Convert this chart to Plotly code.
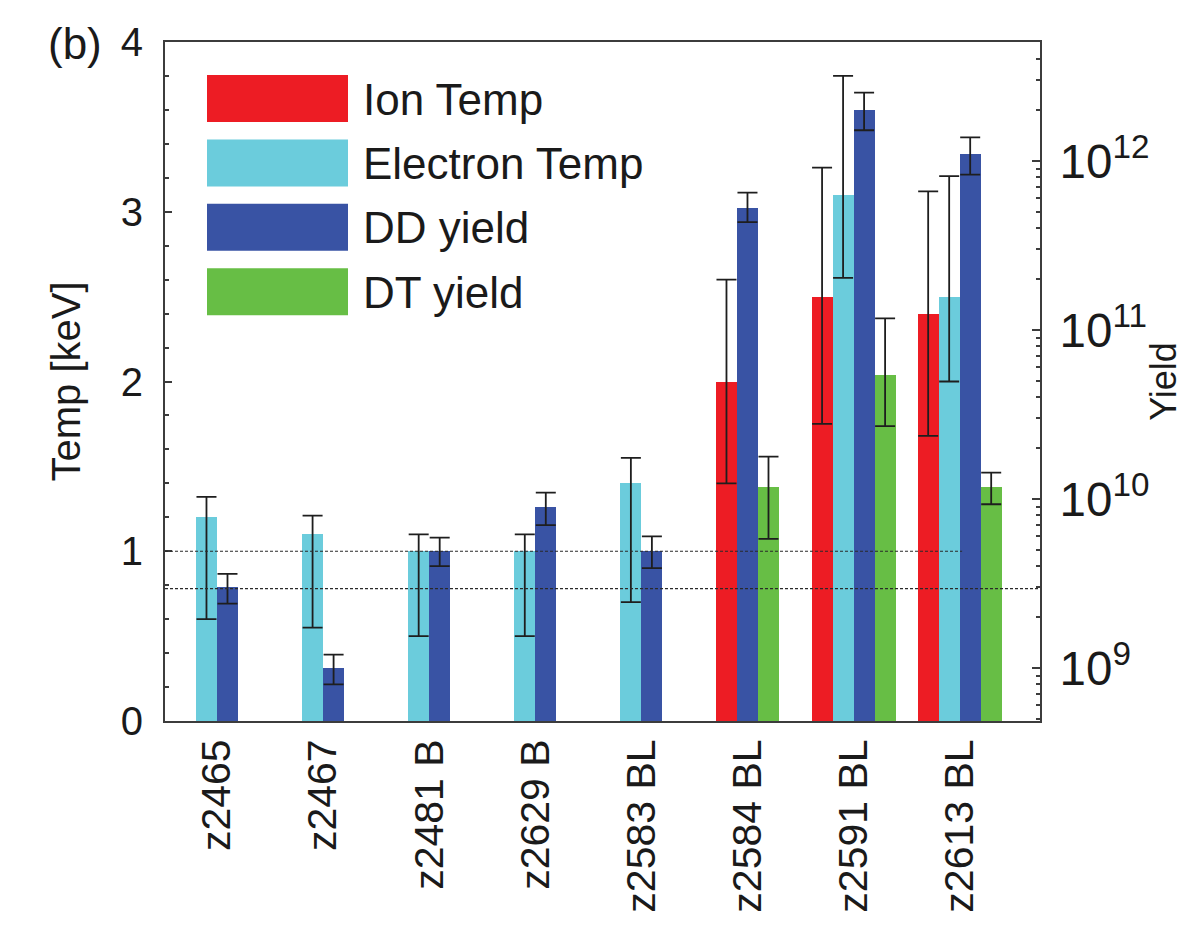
import plotly.graph_objects as go

# ---------------- data ----------------
categories = ["z2465", "z2467", "z2481 B", "z2629 B", "z2583 BL", "z2584 BL", "z2591 BL", "z2613 BL"]

ion_temp = [None, None, None, None, None, 2.0, 2.5, 2.4]
ion_err_plus = [None, None, None, None, None, 0.6, 0.76, 0.72]
ion_err_minus = [None, None, None, None, None, 0.6, 0.75, 0.72]

elec_temp = [1.2, 1.1, 1.0, 1.0, 1.4, None, 3.1, 2.5]
elec_err_plus = [0.12, 0.11, 0.1, 0.1, 0.15, None, 0.7, 0.71]
elec_err_minus = [0.6, 0.55, 0.5, 0.5, 0.7, None, 0.49, 0.5]

dd_yield = [3.0e9, 1.0e9, 4.9e9, 9.0e9, 4.9e9, 5.3e11, 2.0e12, 1.1e12]
dd_err_plus = [0.6e9, 0.2e9, 1.0e9, 1.9e9, 1.1e9, 1.2e11, 0.54e12, 0.28e12]
dd_err_minus = [0.6e9, 0.2e9, 0.9e9, 2.0e9, 1.0e9, 0.95e11, 0.48e12, 0.27e12]

dt_yield = [None, None, None, None, None, 1.18e10, 5.4e10, 1.18e10]
dt_err_plus = [None, None, None, None, None, 0.6e10, 6.3e10, 0.25e10]
dt_err_minus = [None, None, None, None, None, 0.6e10, 2.7e10, 0.25e10]

series_names = ["Ion Temp", "Electron Temp", "DD yield", "DT yield"]
series_colors = ["#ED1C24", "#6BCCDC", "#3953A4", "#67BE45"]

ref_lines_kev = [1.0, 0.78]

temp_range = [0, 4]
temp_ticks = [0, 1, 2, 3, 4]
yield_log_range = [8.686, 12.704]

# ---------------- layout helpers ----------------
FONT = "Liberation Sans, Arial, sans-serif"
BAR_W = 0.198
ERR_COLOR = "#1e1e1e"
AXIS_COLOR = "#3c3c3c"

series = [
    (ion_temp, ion_err_plus, ion_err_minus, "y"),
    (elec_temp, elec_err_plus, elec_err_minus, "y"),
    (dd_yield, dd_err_plus, dd_err_minus, "y2"),
    (dt_yield, dt_err_plus, dt_err_minus, "y2"),
]

# bar centre positions: bars present in each group are packed side by side
positions = [[None] * len(categories) for _ in series]
for i in range(len(categories)):
    present = [k for k, s in enumerate(series) if s[0][i] is not None]
    n = len(present)
    for j, k in enumerate(present):
        positions[k][i] = i + (j - (n - 1) / 2) * BAR_W

y2_base = 10 ** yield_log_range[0]

fig = go.Figure()

for k, (vals, ep, em, axis) in enumerate(series):
    idx = [i for i in range(len(categories)) if vals[i] is not None]
    xs = [positions[k][i] for i in idx]
    ys = [vals[i] for i in idx]
    eps = [ep[i] for i in idx]
    ems = [em[i] for i in idx]
    if axis == "y":
        fig.add_trace(go.Bar(x=xs, y=ys, width=BAR_W, marker=dict(color=series_colors[k], line=dict(width=0)),
                             name=series_names[k], yaxis="y", showlegend=False))
    else:
        fig.add_trace(go.Bar(x=xs, y=[v - y2_base for v in ys], base=y2_base, width=BAR_W,
                             marker=dict(color=series_colors[k], line=dict(width=0)),
                             name=series_names[k], yaxis="y2", showlegend=False))
    fig.add_trace(go.Scatter(
        x=xs, y=ys, mode="markers", yaxis=axis, showlegend=False, hoverinfo="skip",
        marker=dict(size=1, opacity=0),
        error_y=dict(type="data", symmetric=False, array=eps, arrayminus=ems,
                     color=ERR_COLOR, thickness=1.8, width=10),
    ))

# reference dashed lines (drawn on top of bars)
line_ends = [0.911, 1.0]
for v, xe in zip(ref_lines_kev, line_ends):
    fig.add_shape(type="line", xref="paper", yref="y", x0=0, x1=xe, y0=v, y1=v,
                  line=dict(color="#2a2a2a", width=1.2, dash="3px,2px"), layer="above")

# custom legend (large swatches)
plot_l, plot_r, plot_t, plot_b = 165, 1040, 42, 721
plot_w, plot_h = plot_r - plot_l, plot_b - plot_t
def px_x(p):
    return (p - plot_l) / plot_w
def px_y(p):
    return (plot_b - p) / plot_h

for r, (name, col) in enumerate(zip(series_names, series_colors)):
    top = 75 + 64.4 * r
    fig.add_shape(type="rect", xref="paper", yref="paper",
                  x0=px_x(207), x1=px_x(348), y0=px_y(top + 47), y1=px_y(top),
                  fillcolor=col, line=dict(width=0), layer="above")
    fig.add_annotation(xref="paper", yref="paper", x=px_x(361), y=px_y(top + 24),
                       text=name, showarrow=False, xanchor="left", yanchor="middle",
                       font=dict(family=FONT, size=44, color="#1a1a1a"))

fig.add_annotation(xref="paper", yref="paper", x=px_x(46), y=px_y(44), text="(b)",
                   showarrow=False, xanchor="left", yanchor="middle",
                   font=dict(family=FONT, size=44, color="#1a1a1a"))

fig.update_layout(
    width=1184, height=927,
    margin=dict(l=plot_l, r=1184 - plot_r, t=plot_t, b=927 - plot_b, autoexpand=False),
    paper_bgcolor="white", plot_bgcolor="white",
    barmode="overlay", bargap=0,
    font=dict(family=FONT, size=40, color="#1a1a1a"),
    xaxis=dict(
        range=[-0.49, 7.757], tickmode="array", tickvals=list(range(len(categories))),
        ticktext=categories, tickangle=-90, ticks="", showline=True, mirror=True,
        linecolor=AXIS_COLOR, linewidth=2, showgrid=False, zeroline=False, automargin=False,
        tickfont=dict(family=FONT, size=41, color="#1a1a1a"),
    ),
    yaxis=dict(
        range=temp_range, tickmode="array", tickvals=temp_ticks, ticks="inside", ticklen=7,
        tickwidth=2, tickcolor=AXIS_COLOR, showline=True, linecolor=AXIS_COLOR, linewidth=2,
        showgrid=False, zeroline=False, ticklabelstandoff=12, automargin=False,
        minor=dict(dtick=0.2, ticks="inside", ticklen=4, tickwidth=2, tickcolor=AXIS_COLOR, showgrid=False),
        title=dict(text="Temp [keV]", font=dict(family=FONT, size=40), standoff=28),
        tickfont=dict(family=FONT, size=40, color="#1a1a1a"),
    ),
    yaxis2=dict(
        type="log", range=yield_log_range, overlaying="y", side="right", anchor="x",
        dtick=1, exponentformat="power", ticks="inside", ticklen=8, tickwidth=2,
        tickcolor=AXIS_COLOR, showline=True, linecolor=AXIS_COLOR, linewidth=2,
        showgrid=False, zeroline=False, ticklabelstandoff=10, automargin=False,
        minor=dict(dtick="D1", ticks="inside", ticklen=4, tickwidth=1.5, tickcolor=AXIS_COLOR, showgrid=False),
        title=dict(text="Yield", font=dict(family=FONT, size=36), standoff=4),
        tickfont=dict(family=FONT, size=38, color="#1a1a1a"),
    ),
)

# remove the default page margin so the figure sits at the window's top-left corner
fig.write_html("out.html", config={"displayModeBar": False},
               post_script="document.body.style.margin='0';document.body.style.overflow='hidden';")
